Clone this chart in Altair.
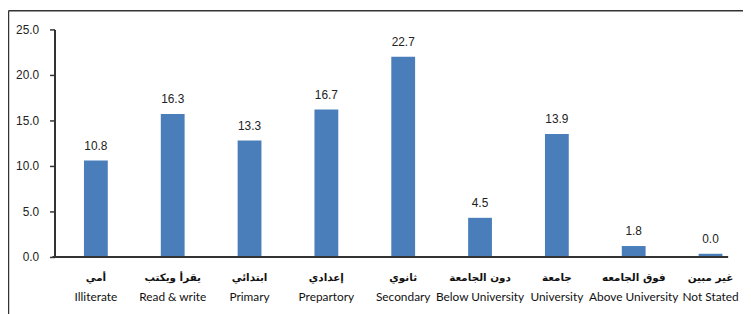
import altair as alt
import pandas as pd

categories_ar = ["أمي", "يقرأ ويكتب", "ابتدائي", "إعدادي", "ثانوي",
                 "دون الجامعة", "جامعة", "فوق الجامعه", "غير مبين"]
categories_en = ["Illiterate", "Read & write", "Primary", "Prepartory", "Secondary",
                 "Below University", "University", "Above University", "Not Stated"]
bar_values = [10.6, 15.7, 12.8, 16.2, 22.0, 4.3, 13.5, 1.2, 0.35]
value_labels = ["10.8", "16.3", "13.3", "16.7", "22.7", "4.5", "13.9", "1.8", "0.0"]
y_ticks = [0, 5, 10, 15, 20, 25]

df = pd.DataFrame({
    "en": categories_en,
    "ar": categories_ar,
    "value": bar_values,
    "label": value_labels,
})

W, H = 681, 230
LINE = "#333333"

x_enc = alt.X("en:N", sort=categories_en, axis=None,
              scale=alt.Scale(range=[3, 702], paddingInner=0.69, paddingOuter=0.345))
y_scale = alt.Scale(domain=[0, 25], nice=False)

base = alt.Chart(df)

bars = base.mark_bar(color="#4a7ebb").encode(
    x=x_enc,
    y=alt.Y("value:Q", scale=y_scale,
            axis=alt.Axis(values=y_ticks, format=".1f", title=None, grid=False,
                          domainColor=LINE, domainWidth=2, tickColor=LINE,
                          tickWidth=1.5, tickSize=5, labelPadding=11,
                          labelFont="Liberation Sans", labelFontSize=12,
                          labelColor="#222222")),
)

vals = base.mark_text(font="Liberation Sans", fontSize=12, color="#222222",
                      baseline="alphabetic", dy=-11).encode(
    x=x_enc,
    y=alt.Y("value:Q", scale=y_scale),
    text="label:N",
)

ar_text = base.mark_text(font="DejaVu Sans", fontSize=10.5, fontWeight="bold",
                         color="#111111", baseline="middle").encode(
    x=x_enc,
    y=alt.value(H + 21),
    text="ar:N",
)

en_text = base.mark_text(font="Lato", fontSize=12, color="#111111",
                         baseline="middle").encode(
    x=x_enc,
    y=alt.value(H + 41),
    text="en:N",
)

baseline = alt.Chart(pd.DataFrame({"k": [0]})).mark_rule(
    color=LINE, strokeWidth=2).encode(
    x=alt.value(-2), x2=alt.value(W), y=alt.value(H))

frame_top = alt.Chart(pd.DataFrame({"k": [0]})).mark_rule(
    color=LINE, strokeWidth=1.5).encode(
    x=alt.value(-46.5), x2=alt.value(W + 40), y=alt.value(-19))

frame_left = alt.Chart(pd.DataFrame({"k": [0]})).mark_rule(
    color=LINE, strokeWidth=1.5).encode(
    x=alt.value(-46.5), y=alt.value(-19), y2=alt.value(H + 80))

chart = alt.layer(bars, vals, ar_text, en_text, baseline, frame_top, frame_left).properties(
    width=W, height=H,
    padding={"left": 47, "top": 20, "right": 15, "bottom": 56},
    autosize=alt.AutoSizeParams(type="none"),
    background="white",
).configure_view(stroke=None)

chart.save("out.html", embed_options={"renderer": "svg", "actions": False})
